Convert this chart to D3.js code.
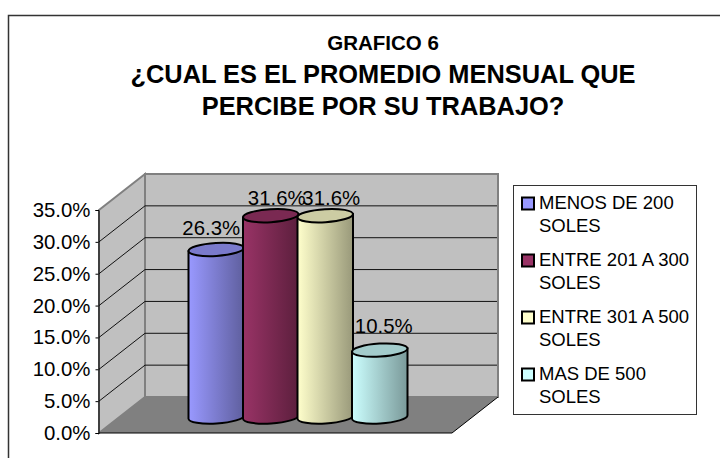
<!DOCTYPE html>
<html>
<head>
<meta charset="utf-8">
<script src="https://d3js.org/d3.v7.min.js"></script>
<style>
  html, body { margin: 0; padding: 0; background: #fff; }
  text { font-family: "Liberation Sans", Arial, sans-serif; fill: #000; }
</style>
</head>
<body>
<div id="chart"></div>
<script>
// values
const categories = ['MENOS DE 200 SOLES', 'ENTRE 201 A 300 SOLES', 'ENTRE 301 A 500 SOLES', 'MAS DE 500 SOLES'];
const legendLines = [['MENOS DE 200', 'SOLES'], ['ENTRE 201 A 300', 'SOLES'], ['ENTRE 301 A 500', 'SOLES'], ['MAS DE 500', 'SOLES']];
const percents = [26.3, 31.6, 31.6, 10.5];
const yTicks = [0, 5, 10, 15, 20, 25, 30, 35];
const titleLines = ['GRAFICO 6', '¿CUAL ES EL PROMEDIO MENSUAL QUE', 'PERCIBE POR SU TRABAJO?'];
const baseColors = ['#9999ff', '#993366', '#ffffcc', '#ccffff'];
const darkColors = ['#5f5f9e', '#5c1f3d', '#99997a', '#7a9999'];
const topColors = ['#7a7acc', '#7a2952', '#cccca3', '#a3cccc'];

const svg = d3.select('#chart').append('svg')
  .attr('width', 720)
  .attr('height', 458)
  .style('display', 'block');

// outer frame, only top and left show in the crop
svg.append('path')
  .attr('d', 'M8.5,458V15.5H720')
  .attr('fill', 'none')
  .attr('stroke', '#333')
  .attr('stroke-width', 1.5);

// title
const titleY = [50, 83, 115];
const titleSize = [20.5, 25.4, 25.4];
svg.selectAll('text.title')
  .data(titleLines)
  .join('text')
  .attr('class', 'title')
  .attr('x', 383)
  .attr('y', (d, i) => titleY[i])
  .attr('text-anchor', 'middle')
  .attr('font-weight', 'bold')
  .attr('font-size', (d, i) => titleSize[i])
  .text(d => d);

// 3d box
const y = d3.scaleLinear().domain([0, 35]).range([433, 210]);
const x = d3.scaleBand().domain(categories).range([189, 407]);
const depthX = 46, depthY = -36;
const frontLeft = 99, frontRight = 452;
const backLeft = frontLeft + depthX, backRight = frontRight + depthX;

// back wall
svg.append('rect')
  .attr('x', backLeft)
  .attr('y', y(35) + depthY)
  .attr('width', backRight - backLeft)
  .attr('height', y(0) - y(35))
  .attr('fill', '#c0c0c0')
  .attr('stroke', '#808080')
  .attr('stroke-width', 2);

// side wall
svg.append('path')
  .attr('d', `M${frontLeft},${y(35)}L${backLeft},${y(35) + depthY}V${y(0) + depthY}L${frontLeft},${y(0)}Z`)
  .attr('fill', '#c0c0c0')
  .attr('stroke', '#808080')
  .attr('stroke-width', 2);

// floor
svg.append('path')
  .attr('d', `M${frontLeft},${y(0)}L${backLeft},${y(0) + depthY}H${backRight}L${frontRight},${y(0)}Z`)
  .attr('fill', '#808080');
svg.append('path')
  .attr('d', `M${frontLeft},${y(0)}H${frontRight}L${backRight},${y(0) + depthY}`)
  .attr('fill', 'none')
  .attr('stroke', '#000');

// gridlines on both walls
const gridTicks = yTicks.filter(d => d > 0 && d < 35);
svg.selectAll('path.grid')
  .data(gridTicks)
  .join('path')
  .attr('class', 'grid')
  .attr('d', d => `M${frontLeft},${y(d)}L${backLeft},${y(d) + depthY}H${backRight - 1}`)
  .attr('fill', 'none')
  .attr('stroke', '#111');

// y axis
const yAxis = d3.axisLeft(y)
  .tickValues(yTicks)
  .tickSize(3)
  .tickPadding(5)
  .tickFormat(d => d3.format('.1f')(d) + '%');
const axisG = svg.append('g')
  .attr('transform', `translate(${frontLeft - 0.5},0)`)
  .call(yAxis);
axisG.selectAll('path, line').attr('stroke', '#000');
axisG.selectAll('text')
  .attr('font-size', 20.4)
  .attr('font-family', '"Liberation Sans", Arial, sans-serif');

// cylinder gradients
const defs = svg.append('defs');
categories.forEach((c, i) => {
  const g = defs.append('linearGradient').attr('id', 'cyl' + i);
  g.append('stop').attr('offset', '0%').attr('stop-color', baseColors[i]);
  g.append('stop').attr('offset', '100%').attr('stop-color', darkColors[i]);
});

// cylinders
const floorLift = 16;
const tilt = -3.5;
const ry = 6.5;
const bars = svg.selectAll('g.bar')
  .data(categories)
  .join('g')
  .attr('class', 'bar');

bars.each(function (c, i) {
  const rx = x.bandwidth() / 2 + 0.5;
  const cx = x(c) + x.bandwidth() / 2;
  const bottom = y(0) - floorLift;
  const top = bottom - (y(0) - y(percents[i]));
  const lean = rx * Math.sin(tilt * Math.PI / 180);
  const g = d3.select(this);
  g.append('path')
    .attr('d', `M${cx - rx},${top - lean}L${cx - rx},${bottom - lean}A${rx},${ry} ${tilt} 0 0 ${cx + rx},${bottom + lean}L${cx + rx},${top + lean}Z`)
    .attr('fill', `url(#cyl${i})`)
    .attr('stroke', '#000')
    .attr('stroke-width', 2);
  g.append('ellipse')
    .attr('cx', cx)
    .attr('cy', top)
    .attr('rx', rx)
    .attr('ry', ry)
    .attr('transform', `rotate(${tilt},${cx},${top})`)
    .attr('fill', topColors[i])
    .attr('stroke', '#000')
    .attr('stroke-width', 2);
});

// data labels
const labelNudge = [-5, 6, 6, 4];
const labelLift = [30, 27, 27, 33];
svg.selectAll('text.value')
  .data(percents)
  .join('text')
  .attr('class', 'value')
  .attr('x', (d, i) => x(categories[i]) + x.bandwidth() / 2 + labelNudge[i])
  .attr('y', (d, i) => y(d) - labelLift[i])
  .attr('text-anchor', 'middle')
  .attr('font-size', 20.4)
  .text(d => d.toFixed(1) + '%');

// legend
svg.append('rect')
  .attr('x', 513.5)
  .attr('y', 185.5)
  .attr('width', 183)
  .attr('height', 229)
  .attr('fill', '#fff')
  .attr('stroke', '#333');

const legendStep = 57;
const legend = svg.selectAll('g.legend')
  .data(legendLines)
  .join('g')
  .attr('class', 'legend')
  .attr('transform', (d, i) => `translate(0,${i * legendStep})`);

legend.append('rect')
  .attr('x', 522)
  .attr('y', 197.5)
  .attr('width', 12)
  .attr('height', 12)
  .attr('fill', (d, i) => baseColors[i])
  .attr('stroke', '#000')
  .attr('stroke-width', 2);

legend.selectAll('text')
  .data(d => d)
  .join('text')
  .attr('x', 539)
  .attr('y', (d, i) => 209 + i * 23)
  .attr('font-size', 18.5)
  .text(d => d);
</script>
</body>
</html>
